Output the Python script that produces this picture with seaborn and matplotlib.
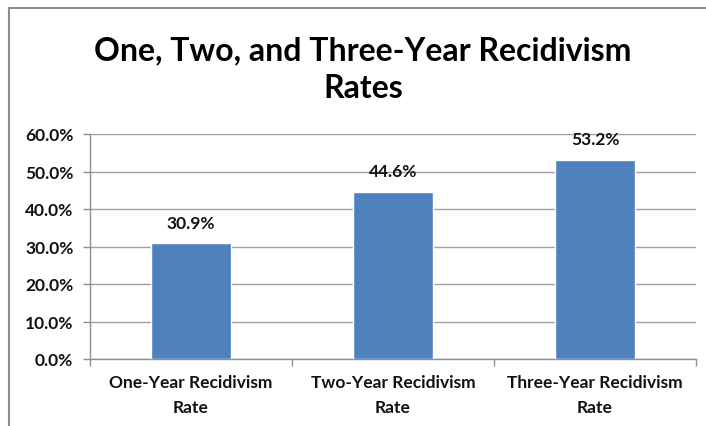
import matplotlib
matplotlib.use("Agg")
import matplotlib.pyplot as plt
from matplotlib.lines import Line2D
from matplotlib.ticker import FixedLocator, PercentFormatter
import seaborn as sns
import pandas as pd

categories = ["One-Year Recidivism\nRate", "Two-Year Recidivism\nRate", "Three-Year Recidivism\nRate"]
rates = [30.9, 44.6, 53.2]
y_ticks = [0, 10, 20, 30, 40, 50, 60]
title = "One, Two, and Three-Year Recidivism\nRates"

sns.set_theme(style="white")
plt.rcParams["font.family"] = ["Lato", "DejaVu Sans"]

df = pd.DataFrame({"category": categories, "rate": rates})

fig = plt.figure(figsize=(7.06, 4.27), dpi=100)
ax = fig.add_axes([90 / 706, 67 / 427, 606 / 706, 225 / 427])

sns.barplot(data=df, x="category", y="rate", color="#4F81BD", width=0.4,
            saturation=1, ax=ax, zorder=3)

ax.set_xlim(-0.5, 2.5)
ax.set_ylim(0, 60)
ax.set_yticks(y_ticks)
ax.yaxis.set_major_formatter(PercentFormatter(decimals=1))
ax.set_xlabel("")
ax.set_ylabel("")

ax.grid(axis="y", color="#A0A0A0", linewidth=1, zorder=0)
ax.grid(axis="x", visible=False)

for side in ("top", "right"):
    ax.spines[side].set_visible(False)
for side in ("left", "bottom"):
    ax.spines[side].set_color("#909090")
    ax.spines[side].set_linewidth(1)

ax.tick_params(axis="y", which="major", left=True, length=5, width=1,
               color="#909090", pad=7, labelsize=12.5)
ax.tick_params(axis="x", which="major", bottom=False, length=0, pad=11,
               labelsize=12.5)
ax.xaxis.set_minor_locator(FixedLocator([-0.5, 0.5, 1.5, 2.5]))
ax.tick_params(axis="x", which="minor", bottom=True, length=5, width=1,
               color="#909090")
for lbl in ax.get_yticklabels() + ax.get_xticklabels():
    lbl.set_fontweight("bold")
    lbl.set_color("#111111")
for lbl in ax.get_xticklabels():
    lbl.set_linespacing(1.7)

for i, v in enumerate(rates):
    ax.annotate(f"{v:.1f}%", xy=(i, v), xytext=(0, 9), textcoords="offset points",
                ha="center", va="bottom", fontsize=12.5, fontweight="bold",
                color="#111111")

fig.text(363 / 706, 1 - 70 / 427, title, ha="center", va="center",
         fontsize=23, fontweight="bold", linespacing=1.35, color="#000000")

# outer chart frame
fig.add_artist(Line2D([9 / 706, 1.0], [1 - 9 / 427, 1 - 9 / 427],
                      transform=fig.transFigure, color="#8C8C8C", linewidth=1.5))
fig.add_artist(Line2D([9 / 706, 9 / 706], [0.0, 1 - 9 / 427],
                      transform=fig.transFigure, color="#8C8C8C", linewidth=1.5))

fig.savefig("out.png", dpi=100, facecolor="white")
